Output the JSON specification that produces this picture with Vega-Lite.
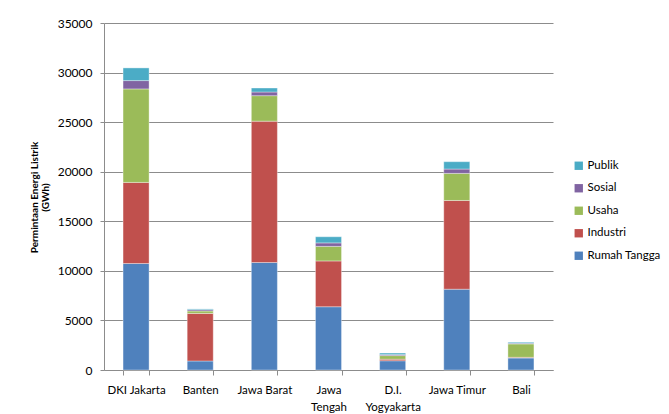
{
  "$schema": "https://vega.github.io/schema/vega-lite/v6.json",
  "width": 449,
  "height": 347,
  "autosize": {"type": "none"},
  "padding": {"left": 104, "top": 23, "right": 116, "bottom": 44},
  "background": "#ffffff",
  "config": {
    "font": "Lato",
    "view": {"stroke": null},
    "axis": {"labelColor": "#000000", "titleColor": "#000000", "labelFont": "Lato", "titleFont": "Lato"},
    "legend": {"labelFont": "Lato"}
  },
  "data": {
    "values": [
      {"wilayah": "DKI Jakarta", "sektor": "Rumah Tangga", "urut": 1, "nilai": 10740},
      {"wilayah": "DKI Jakarta", "sektor": "Industri", "urut": 2, "nilai": 8180},
      {"wilayah": "DKI Jakarta", "sektor": "Usaha", "urut": 3, "nilai": 9430},
      {"wilayah": "DKI Jakarta", "sektor": "Sosial", "urut": 4, "nilai": 840},
      {"wilayah": "DKI Jakarta", "sektor": "Publik", "urut": 5, "nilai": 1280},
      {"wilayah": "Banten", "sektor": "Rumah Tangga", "urut": 1, "nilai": 910},
      {"wilayah": "Banten", "sektor": "Industri", "urut": 2, "nilai": 4800},
      {"wilayah": "Banten", "sektor": "Usaha", "urut": 3, "nilai": 240},
      {"wilayah": "Banten", "sektor": "Sosial", "urut": 4, "nilai": 130},
      {"wilayah": "Banten", "sektor": "Publik", "urut": 5, "nilai": 80},
      {"wilayah": "Jawa Barat", "sektor": "Rumah Tangga", "urut": 1, "nilai": 10840},
      {"wilayah": "Jawa Barat", "sektor": "Industri", "urut": 2, "nilai": 14260},
      {"wilayah": "Jawa Barat", "sektor": "Usaha", "urut": 3, "nilai": 2570},
      {"wilayah": "Jawa Barat", "sektor": "Sosial", "urut": 4, "nilai": 370},
      {"wilayah": "Jawa Barat", "sektor": "Publik", "urut": 5, "nilai": 400},
      {"wilayah": "Jawa Tengah", "sektor": "Rumah Tangga", "urut": 1, "nilai": 6380},
      {"wilayah": "Jawa Tengah", "sektor": "Industri", "urut": 2, "nilai": 4620},
      {"wilayah": "Jawa Tengah", "sektor": "Usaha", "urut": 3, "nilai": 1470},
      {"wilayah": "Jawa Tengah", "sektor": "Sosial", "urut": 4, "nilai": 350},
      {"wilayah": "Jawa Tengah", "sektor": "Publik", "urut": 5, "nilai": 620},
      {"wilayah": "D.I. Yogyakarta", "sektor": "Rumah Tangga", "urut": 1, "nilai": 930},
      {"wilayah": "D.I. Yogyakarta", "sektor": "Industri", "urut": 2, "nilai": 160},
      {"wilayah": "D.I. Yogyakarta", "sektor": "Usaha", "urut": 3, "nilai": 360},
      {"wilayah": "D.I. Yogyakarta", "sektor": "Sosial", "urut": 4, "nilai": 100},
      {"wilayah": "D.I. Yogyakarta", "sektor": "Publik", "urut": 5, "nilai": 160},
      {"wilayah": "Jawa Timur", "sektor": "Rumah Tangga", "urut": 1, "nilai": 8150},
      {"wilayah": "Jawa Timur", "sektor": "Industri", "urut": 2, "nilai": 8950},
      {"wilayah": "Jawa Timur", "sektor": "Usaha", "urut": 3, "nilai": 2730},
      {"wilayah": "Jawa Timur", "sektor": "Sosial", "urut": 4, "nilai": 440},
      {"wilayah": "Jawa Timur", "sektor": "Publik", "urut": 5, "nilai": 740},
      {"wilayah": "Bali", "sektor": "Rumah Tangga", "urut": 1, "nilai": 1210},
      {"wilayah": "Bali", "sektor": "Industri", "urut": 2, "nilai": 70},
      {"wilayah": "Bali", "sektor": "Usaha", "urut": 3, "nilai": 1350},
      {"wilayah": "Bali", "sektor": "Sosial", "urut": 4, "nilai": 70},
      {"wilayah": "Bali", "sektor": "Publik", "urut": 5, "nilai": 100}
    ]
  },
  "mark": {"type": "bar", "stroke": "#ffffff", "strokeWidth": 0.6, "strokeOpacity": 0.6},
  "encoding": {
    "x": {
      "field": "wilayah",
      "type": "nominal",
      "sort": ["DKI Jakarta", "Banten", "Jawa Barat", "Jawa Tengah", "D.I. Yogyakarta", "Jawa Timur", "Bali"],
      "scale": {"paddingInner": 0.594, "paddingOuter": 0.297},
      "axis": {
        "title": null,
        "labelAngle": 0,
        "labelFontSize": 11.5,
        "labelPadding": 9,
        "labelLineHeight": 17,
        "labelBaseline": "top",
        "labelExpr": "datum.value == 'Jawa Tengah' ? ['Jawa', 'Tengah'] : datum.value == 'D.I. Yogyakarta' ? ['D.I.', 'Yogyakarta'] : datum.value",
        "domainColor": "#8c8c8c",
        "tickColor": "#8c8c8c",
        "tickSize": 5,
        "tickBand": "extent",
        "grid": false
      }
    },
    "y": {
      "field": "nilai",
      "type": "quantitative",
      "stack": "zero",
      "scale": {"domain": [0, 35000], "nice": false},
      "axis": {
        "title": ["Permintaan Energi Listrik", "(GWh)"],
        "titleFontSize": 10,
        "titleFontWeight": "bold",
        "titleAngle": -90,
        "titleX": -70,
        "titleY": 174,
        "titleAlign": "center",
        "titleBaseline": "middle",
        "titleLineHeight": 11,
        "values": [0, 5000, 10000, 15000, 20000, 25000, 30000, 35000],
        "format": "d",
        "labelFontSize": 12,
        "labelPadding": 8,
        "domainColor": "#8c8c8c",
        "tickColor": "#8c8c8c",
        "tickSize": 4,
        "gridColor": "#8c8c8c",
        "gridWidth": 1
      }
    },
    "color": {
      "field": "sektor",
      "type": "nominal",
      "scale": {
        "domain": ["Publik", "Sosial", "Usaha", "Industri", "Rumah Tangga"],
        "range": ["#4BACC6", "#8064A2", "#9BBB59", "#C0504D", "#4F81BD"]
      },
      "legend": {
        "title": null,
        "orient": "none",
        "legendX": 469,
        "legendY": 137,
        "symbolType": "square",
        "symbolSize": 70,
        "symbolStrokeWidth": 0,
        "labelFontSize": 11.5,
        "labelColor": "#000000",
        "labelOffset": 3,
        "rowPadding": 9.5
      }
    },
    "order": {"field": "urut", "type": "quantitative"}
  }
}
